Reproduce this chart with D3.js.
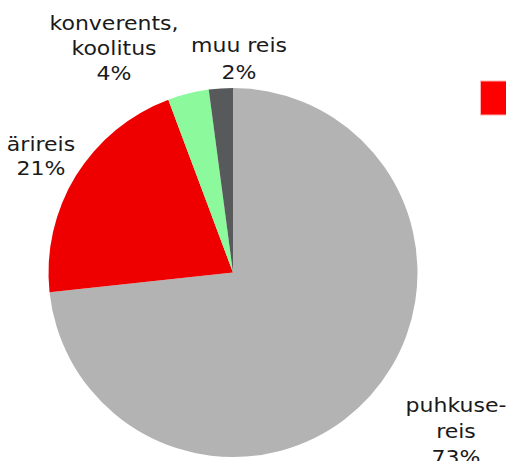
<!DOCTYPE html>
<html>
<head>
  <meta charset="utf-8">
  <script src="https://d3js.org/d3.v7.min.js"></script>
  <style>
    body { margin: 0; background: white; overflow: hidden; }
    text { font-family: "DejaVu Sans", Verdana, sans-serif; font-size: 20px; fill: #1a1a1a; }
  </style>
</head>
<body>
  <svg id="chart" width="506" height="461"></svg>
  <script>
    // slices, clockwise from 12 o'clock
    const categories = ["puhkusereis", "ärireis", "konverents, koolitus", "muu reis"];
    const shares = [73.3, 21.0, 3.6, 2.1];
    const labelLines = [["puhkuse-", "reis", "73%"], ["ärireis", "21%"], ["konverents,", "koolitus", "4%"], ["muu reis", "2%"]];
    const colors = ["#b3b3b3", "#ee0000", "#8cf99c", "#58595b"];
    // label anchor (centre x, first baseline y, line step)
    const labelPos = [[456, 411.5, 26.5], [41, 151, 24.5], [114, 29.5, 25.5], [239, 52, 27]];

    const svg = d3.select("#chart");
    const cx = 233, cy = 272.5, radius = 184.5;

    const pie = d3.pie().sort(null).value(d => d)(shares);
    const arc = d3.arc().innerRadius(0).outerRadius(radius);

    const g = svg.append("g").attr("transform", `translate(${cx},${cy})`);
    g.selectAll("path")
      .data(pie)
      .join("path")
      .attr("d", arc)
      .attr("fill", (d, i) => colors[i]);

    // labels - the original font is a bit wider than DejaVu, so stretch it a little
    labelLines.forEach((lines, i) => {
      const [lx, ly, step] = labelPos[i];
      const t = svg.append("text")
        .attr("text-anchor", "middle")
        .attr("transform", `translate(${lx},${ly}) scale(1.1,1)`);
      lines.forEach((line, j) => {
        t.append("tspan")
          .attr("x", 0)
          .attr("dy", j === 0 ? 0 : step)
          .text(line);
      });
    });

    // legend key (cut off at the right edge)
    svg.append("rect")
      .attr("x", 480.5).attr("y", 81)
      .attr("width", 30).attr("height", 34)
      .attr("fill", "#ff0000")
      .attr("stroke", "#ffb0b0").attr("stroke-width", 1);
  </script>
</body>
</html>
